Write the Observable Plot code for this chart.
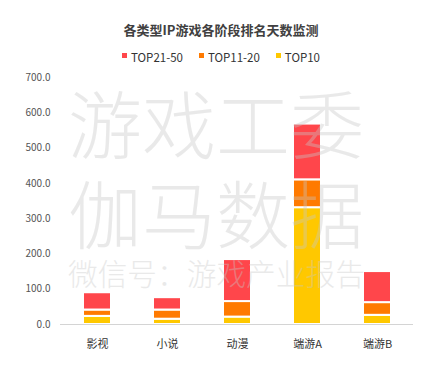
<!DOCTYPE html>
<html>
<head>
<meta charset="utf-8">
<script src="https://cdn.jsdelivr.net/npm/d3@7"></script>
<script src="https://cdn.jsdelivr.net/npm/@observablehq/plot@0.6"></script>
<style>
  html, body { margin: 0; padding: 0; background: #fff; }
  body { width: 442px; height: 366px; overflow: hidden; font-family: "Noto Sans CJK SC", "Noto Sans", sans-serif; }
  #wrap { position: relative; width: 442px; height: 366px; }
  #header { position: relative; height: 65px; }
  #title { position: absolute; left: 0; right: 0; top: 21px; text-align: center; font-size: 13px; font-weight: bold; color: #404040; line-height: 18px; }
  #legend { position: absolute; left: 0; right: 0; top: 49px; display: flex; justify-content: center; gap: 16px; font-size: 11.5px; color: #333; line-height: 16px; }
  #legend .item { display: flex; align-items: center; gap: 4px; }
  #legend .sw { width: 5px; height: 5px; display: inline-block; margin-top: -4px; }
  #watermark { position: absolute; left: 0; top: 0; width: 442px; height: 366px; pointer-events: none; color: #c8c8c8; opacity: 0.38; font-family: "Noto Sans CJK SC", sans-serif; font-weight: 200; }
  #watermark div { position: absolute; left: 68px; white-space: nowrap; line-height: 1; }
</style>
</head>
<body>
<div id="wrap">
  <div id="header">
    <div id="title"></div>
    <div id="legend"></div>
  </div>
  <div id="chart"></div>
  <div id="watermark">
    <div style="top:84px;font-size:74px;height:74px;">游戏工委</div>
    <div style="top:174px;font-size:74px;height:74px;">伽马数据</div>
    <div style="top:258px;font-size:29.7px;height:30px;">微信号：游戏产业报告</div>
  </div>
</div>
<script>
const title = "各类型IP游戏各阶段排名天数监测";
const categories = ["影视", "小说", "动漫", "端游A", "端游B"];
const seriesNames = ["TOP10", "TOP11-20", "TOP21-50"];
const top10 = [23, 15, 21, 331, 26];
const top11_20 = [18, 26, 44, 79, 36];
const top21_50 = [49, 35, 119, 158, 88];
const colors = ["#FFC800", "#FF7A00", "#FF464B"];
const yTicks = [0, 100, 200, 300, 400, 500, 600, 700];

document.getElementById("title").textContent = title;

const legendOrder = [2, 1, 0];
const legend = document.getElementById("legend");
for (const i of legendOrder) {
  const item = document.createElement("div");
  item.className = "item";
  const sw = document.createElement("span");
  sw.className = "sw";
  sw.style.background = colors[i];
  const t = document.createElement("span");
  t.textContent = seriesNames[i];
  item.appendChild(sw);
  item.appendChild(t);
  legend.appendChild(item);
}

const seriesValues = [top10, top11_20, top21_50];
const data = [];
seriesNames.forEach((s, si) => {
  categories.forEach((c, ci) => {
    data.push({category: c, series: s, value: seriesValues[si][ci]});
  });
});

const chart = Plot.plot({
  width: 442,
  height: 301,
  marginLeft: 60,
  marginRight: 29,
  marginTop: 12,
  marginBottom: 42,
  style: {fontFamily: "'Noto Sans CJK SC', 'Noto Sans', sans-serif", background: "#fff"},
  x: {domain: categories, paddingInner: 0.6, paddingOuter: 0.3, label: null},
  y: {domain: [0, 700], label: null},
  color: {domain: seriesNames, range: colors},
  marks: [
    Plot.barY(data, Plot.stackY({
      x: "category", y: "value", fill: "series",
      order: seriesNames,
      stroke: "#fff", strokeWidth: 2
    })),
    Plot.ruleY([0], {stroke: "#d4d4d4", strokeWidth: 1}),
    Plot.axisY({ticks: yTicks, tickFormat: d3.format(".1f"), tickSize: 0, tickPadding: 10, fontSize: 10, fill: "#555", label: null}),
    Plot.axisX({tickSize: 0, tickPadding: 16, fontSize: 11, fill: "#333", label: null})
  ]
});
document.getElementById("chart").appendChild(chart);
</script>
</body>
</html>
